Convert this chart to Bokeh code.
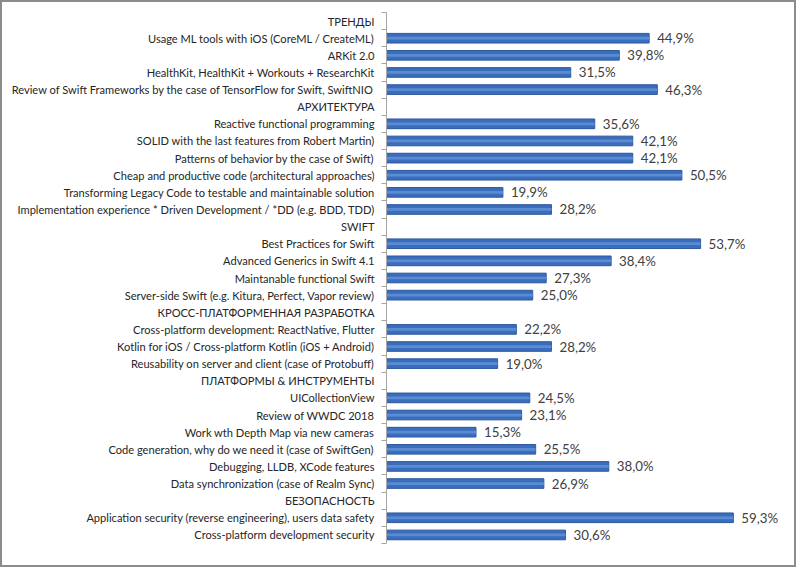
from bokeh.plotting import figure
from bokeh.models import ColumnDataSource, Range1d, FixedTicker
from bokeh.embed import file_html
from bokeh.resources import INLINE
from bokeh.core.properties import value

categories = [
    "ТРЕНДЫ",
    "Usage ML tools with iOS (CoreML / CreateML)",
    "ARKit 2.0",
    "HealthKit, HealthKit + Workouts + ResearchKit",
    "Review of Swift Frameworks by the case of TensorFlow for Swift, SwiftNIO",
    "АРХИТЕКТУРА",
    "Reactive functional programming",
    "SOLID with the last features from Robert Martin)",
    "Patterns of behavior by the case of Swift)",
    "Cheap and productive code (architectural approaches)",
    "Transforming Legacy Code to testable and maintainable solution",
    "Implementation experience * Driven Development / *DD (e.g. BDD, TDD)",
    "SWIFT",
    "Best Practices for Swift",
    "Advanced Generics in Swift 4.1",
    "Maintanable functional Swift",
    "Server-side Swift (e.g. Kitura, Perfect, Vapor review)",
    "КРОСС-ПЛАТФОРМЕННАЯ РАЗРАБОТКА",
    "Cross-platform development: ReactNative, Flutter",
    "Kotlin for iOS / Cross-platform Kotlin (iOS + Android)",
    "Reusability on server and client (case of Protobuff)",
    "ПЛАТФОРМЫ & ИНСТРУМЕНТЫ",
    "UICollectionView",
    "Review of WWDC 2018",
    "Work wth Depth Map via new cameras",
    "Code generation, why do we need it (case of SwiftGen)",
    "Debugging, LLDB, XCode features",
    "Data synchronization (case of Realm Sync)",
    "БЕЗОПАСНОСТЬ",
    "Application security (reverse engineering), users data safety",
    "Cross-platform development security",
]

values = [
    None, 44.9, 39.8, 31.5, 46.3,
    None, 35.6, 42.1, 42.1, 50.5, 19.9, 28.2,
    None, 53.7, 38.4, 27.3, 25.0,
    None, 22.2, 28.2, 19.0,
    None, 24.5, 23.1, 15.3, 25.5, 38.0, 26.9,
    None, 59.3, 30.6,
]

n = len(categories)
ypos = [n - 1 - i for i in range(n)]

bar_y = [y for y, v in zip(ypos, values) if v is not None]
bar_v = [v for v in values if v is not None]
bar_lbl = [f"{v:.1f}".replace(".", ",") + "%" for v in bar_v]

src = ColumnDataSource(dict(y=bar_y, v=bar_v, lbl=bar_lbl))

p = figure(
    width=796, height=567,
    output_backend="svg", toolbar_location=None,
    x_range=Range1d(0, 67.7),
    y_range=Range1d(-0.5, n - 0.5),
    x_axis_location=None,
    min_border_left=384, min_border_right=16,
    min_border_top=10, min_border_bottom=26,
)
p.styles = {"border": "2px solid #8c8c8c"}
p.outline_line_color = None
p.xgrid.visible = False
p.ygrid.visible = False

p.hbar(y="y", left=0, right="v", height=0.62, source=src,
       fill_color="#d3dbe8", line_color=None)
p.hbar(y="y", left=0, right="v", height=0.56, source=src,
       fill_color="#3a6dbc", line_color="#2f5b9f", line_width=1)
p.hbar(y="y", left=0, right="v", height=0.16, source=src,
       fill_color="#5b8bd3", line_color=None)

p.text(x="v", y="y", text="lbl", source=src, x_offset=8,
       text_baseline="middle", text_align="left",
       text_font=value("Lato"), text_font_size="13.3px",
       text_color="#404040")

ax = p.yaxis[0]
ax.ticker = FixedTicker(ticks=ypos, minor_ticks=[y + 0.5 for y in range(-1, n)])
ax.major_label_overrides = {y: c for y, c in zip(ypos, categories)}
ax.major_tick_line_color = None
ax.minor_tick_line_color = "#a6a6a6"
ax.minor_tick_out = 5
ax.minor_tick_in = 0
ax.axis_line_color = "#a6a6a6"
ax.major_label_text_font = "Lato"
ax.major_label_text_font_size = "11.1px"
ax.major_label_text_color = "#262626"
ax.major_label_standoff = 6

open("out.html", "w").write(file_html(p, INLINE))
